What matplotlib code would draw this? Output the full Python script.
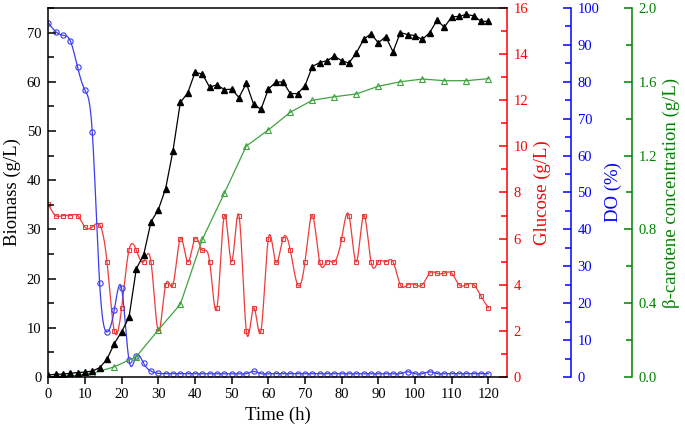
import matplotlib
matplotlib.use("Agg")
import matplotlib.pyplot as plt
import numpy as np

plt.rcParams['font.family'] = ['Liberation Serif', 'DejaVu Serif']
plt.rcParams['mathtext.fontset'] = 'stix'

# sampling every 2 h (biomass, glucose, DO) and every 6 h (beta-carotene)
time_2h = list(range(0, 121, 2))
time_6h = list(range(0, 121, 6))

biomass = [0.4, 0.55, 0.6, 0.75, 0.9, 1.0, 1.2, 1.9, 3.6, 6.8,
           9.2, 12.1, 22.0, 24.8, 31.5, 34.0, 38.3, 46.0, 55.8, 57.7,
           61.9, 61.6, 58.9, 59.4, 58.4, 58.5, 56.8, 59.7, 55.4, 54.4,
           58.5, 59.9, 60.0, 57.6, 57.6, 59.2, 63.1, 63.9, 64.3, 65.2,
           64.3, 63.8, 65.9, 68.6, 69.8, 67.9, 69.2, 66.1, 70.0, 69.6,
           69.4, 68.6, 70.0, 72.5, 71.1, 73.2, 73.3, 73.7, 73.4, 72.3,
           72.3]

glucose = [7.5, 7.0, 7.0, 7.0, 7.0, 6.5, 6.5, 6.6, 5.0, 2.0,
           3.0, 5.5, 5.5, 5.0, 5.0, 2.0, 4.0, 4.0, 6.0, 5.0,
           6.0, 5.5, 5.0, 3.0, 7.0, 5.0, 7.0, 2.0, 3.0, 2.0,
           6.0, 5.0, 6.0, 5.5, 4.0, 5.0, 7.0, 5.0, 5.0, 5.0,
           6.0, 7.0, 5.0, 7.0, 5.0, 5.0, 5.0, 5.0, 4.0, 4.0,
           4.0, 4.0, 4.5, 4.5, 4.5, 4.5, 4.0, 4.0, 4.0, 3.5,
           3.0]

do_pct = [96.0, 93.6, 92.6, 91.1, 83.9, 77.7, 66.3, 25.4, 12.2, 18.2,
          24.0, 4.6, 5.7, 3.7, 1.6, 1.0, 0.9, 0.9, 0.9, 0.9,
          0.9, 0.9, 0.9, 0.9, 0.9, 0.9, 0.9, 0.9, 1.5, 0.9,
          0.9, 0.9, 0.9, 0.9, 0.9, 0.9, 0.9, 0.9, 0.9, 0.9,
          0.9, 0.9, 0.9, 0.9, 0.9, 0.9, 0.9, 0.9, 0.9, 1.4,
          0.9, 0.9, 1.4, 0.9, 0.9, 0.9, 0.9, 0.9, 0.9, 0.9,
          0.9]

beta_carotene = [0.0, 0.005, 0.02, 0.055, 0.11, 0.255, 0.394, 0.746, 0.996, 1.252,
                 1.339, 1.435, 1.50, 1.519, 1.534, 1.576, 1.60, 1.615, 1.606, 1.606,
                 1.617]


def spline_curve(x, y, n=20):
    # natural cubic spline through the points, only for drawing the connecting line
    x = np.asarray(x, float)
    y = np.asarray(y, float)
    h = np.diff(x)
    m = len(x)
    A = np.zeros((m, m))
    r = np.zeros(m)
    A[0, 0] = A[-1, -1] = 1
    for i in range(1, m - 1):
        A[i, i - 1] = h[i - 1]
        A[i, i] = 2 * (h[i - 1] + h[i])
        A[i, i + 1] = h[i]
        r[i] = 3 * ((y[i + 1] - y[i]) / h[i] - (y[i] - y[i - 1]) / h[i - 1])
    c = np.linalg.solve(A, r)
    b = (y[1:] - y[:-1]) / h - h * (2 * c[:-1] + c[1:]) / 3
    d = (c[1:] - c[:-1]) / (3 * h)
    xs, ys = [], []
    for i in range(m - 1):
        t = np.linspace(0, h[i], n, endpoint=False)
        xs.append(x[i] + t)
        ys.append(y[i] + b[i] * t + c[i] * t ** 2 + d[i] * t ** 3)
    xs.append([x[-1]])
    ys.append([y[-1]])
    return np.concatenate(xs), np.concatenate(ys)


RED, BLUE, GREEN = '#ff0000', '#0000ff', '#008000'
RED_L, BLUE_L, GREEN_L = '#ee3b3b', '#3c3cf0', '#3fa33f'
tick_fs = 10.5
label_fs = 13.5

fig = plt.figure(figsize=(6.85, 4.37), dpi=100)
ax = fig.add_axes([0.0705, 0.1373, 0.6692, 0.8444])
ax_glc = ax.twinx()
ax_do = ax.twinx()
ax_car = ax.twinx()

# glucose
gx, gy = spline_curve(time_2h, glucose)
ax_glc.plot(gx, gy, color=RED_L, lw=0.9)
ax_glc.plot(time_2h, glucose, ls='none', marker='s', ms=3.5, mfc='none',
            mec=RED_L, mew=0.8)

# dissolved oxygen
dx, dy = spline_curve(time_2h, do_pct)
ax_do.plot(dx, dy, color=BLUE_L, lw=0.9)
ax_do.plot(time_2h, do_pct, ls='none', marker='o', ms=3.8, mfc='none',
           mec=BLUE_L, mew=0.8)

# beta-carotene
ax_car.plot(time_6h, beta_carotene, color=GREEN_L, lw=0.9, marker='^', ms=4,
            mfc='none', mec=GREEN_L, mew=0.8)

# biomass
ax.plot(time_2h, biomass, color='black', lw=0.9, marker='^', ms=4.5, zorder=5)
ax.set_zorder(4)
ax.patch.set_visible(False)

ax.set_xlim(0, 125)
ax.set_ylim(0, 75)
ax_glc.set_ylim(0, 16)
ax_do.set_ylim(0, 100)
ax_car.set_ylim(0, 2.0)

ax.set_xticks(np.arange(0, 121, 10))
ax.set_yticks(np.arange(0, 71, 10))
ax.set_yticks(np.arange(0, 76, 5), minor=True)
ax.tick_params(axis='x', direction='out', length=5, width=1.1, labelsize=tick_fs, pad=3)
ax.tick_params(axis='y', which='both', direction='in', width=1.1, labelsize=tick_fs, pad=5)
ax.tick_params(axis='y', which='major', length=6)
ax.tick_params(axis='y', which='minor', length=4)
ax.set_xlabel('Time (h)', fontsize=label_fs, labelpad=4)
ax.set_ylabel('Biomass (g/L)', fontsize=label_fs, labelpad=4)
for s in ['left', 'top', 'bottom']:
    ax.spines[s].set_linewidth(1.1)
ax.spines['right'].set_visible(False)

axis_specs = [
    (ax_glc, RED, 0, np.arange(0, 17, 2), np.arange(0, 16.5, 1), 'Glucose (g/L)', None),
    (ax_do, BLUE, 46, np.arange(0, 101, 10), np.arange(0, 101, 5), 'DO (%)', None),
    (ax_car, GREEN, 90, np.arange(0, 2.01, 0.4), np.arange(0, 2.01, 0.2),
     'β-carotene concentration (g/L)', '{:.1f}'),
]
for a, col, off, major, minor, lab, fmt in axis_specs:
    for s in ['left', 'top', 'bottom']:
        a.spines[s].set_visible(False)
    a.spines['right'].set_position(('outward', off))
    a.spines['right'].set_color(col)
    a.spines['right'].set_linewidth(1.1)
    a.set_yticks(major)
    a.set_yticks(minor, minor=True)
    if fmt:
        a.set_yticklabels([fmt.format(v) for v in major])
    a.tick_params(axis='y', which='both', direction='in', colors=col, width=1.1,
                  labelsize=tick_fs, pad=5)
    a.tick_params(axis='y', which='major', length=6)
    a.tick_params(axis='y', which='minor', length=4)
    a.set_ylabel(lab, color=col, fontsize=label_fs, labelpad=4)

plt.savefig('out.png', dpi=100)
